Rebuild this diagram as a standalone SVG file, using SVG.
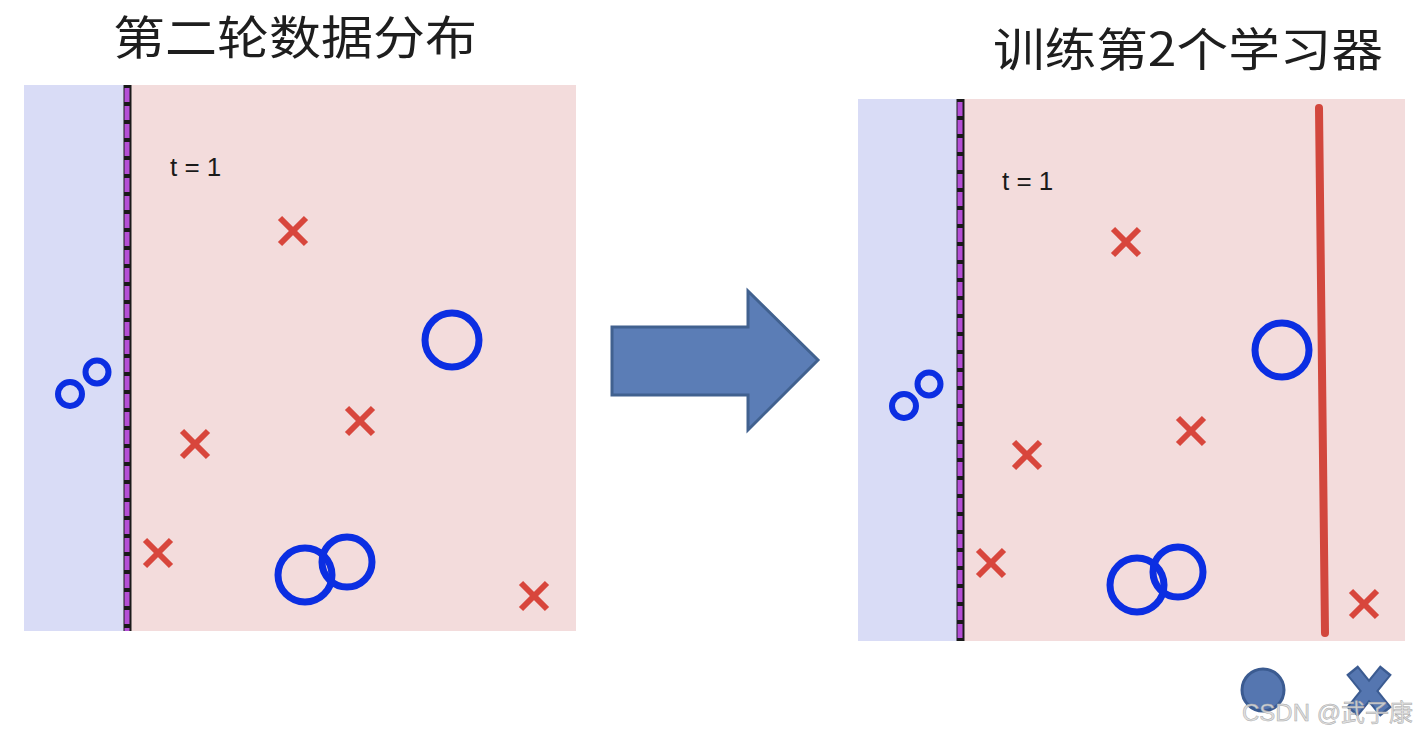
<svg xmlns="http://www.w3.org/2000/svg" width="1428" height="736" viewBox="0 0 1428 736">
<style>
.title{font-family:"Noto Sans CJK SC","Noto Sans",sans-serif;font-size:46px;fill:#1e1e1e}
.t{font-family:"Liberation Sans",Arial,sans-serif;font-size:26px;fill:#1a1a1a}
.bluebg{fill:#d9dcf6}
.pinkbg{fill:#f3dcdc}
.o{fill:none;stroke:#0b2ee2}
.x{stroke:#d8463c;stroke-width:6;stroke-linecap:butt}
.sepb{stroke:#1a1a1a;stroke-width:8}
.sepp{stroke:#b44fd6;stroke-width:5;stroke-dasharray:14 4}
</style>
<defs>
<g id="cross"><line class="x" x1="-13" y1="-13" x2="13" y2="13"/><line class="x" x1="-13" y1="13" x2="13" y2="-13"/></g>
</defs>
<rect width="1428" height="736" fill="#ffffff"/>
<g id="title-left"><text class="title" x="113" y="54" textLength="364" lengthAdjust="spacingAndGlyphs">第二轮数据分布</text></g>
<g id="title-right"><text class="title" x="993" y="66" textLength="390" lengthAdjust="spacingAndGlyphs">训练第2个学习器</text></g>
<g id="panel-left">
<rect class="pinkbg" x="24" y="85" width="552" height="546"/>
<rect class="bluebg" x="24" y="85" width="103" height="546"/>
<line class="sepb" x1="127.5" y1="85" x2="127.5" y2="631"/>
<line class="sepp" x1="127" y1="88" x2="127" y2="631"/>
<text class="t" x="170" y="176">t = 1</text>
<circle class="o" cx="70" cy="394" r="12" stroke-width="6"/>
<circle class="o" cx="97" cy="372" r="11.5" stroke-width="6"/>
<circle class="o" cx="452" cy="340" r="27" stroke-width="7"/>
<circle class="o" cx="305" cy="575" r="27" stroke-width="7"/>
<circle class="o" cx="347" cy="562" r="25" stroke-width="7"/>
<use href="#cross" x="293" y="231"/>
<use href="#cross" x="195" y="444"/>
<use href="#cross" x="360" y="421"/>
<use href="#cross" x="158" y="553"/>
<use href="#cross" x="534" y="596"/>
</g>
<g id="arrow">
<polygon points="612,327 748,327 748,291 818,360 748,430 748,395 612,395" fill="#5b7db6" stroke="#41618f" stroke-width="3" stroke-linejoin="miter"/>
</g>
<g id="panel-right">
<rect class="pinkbg" x="858" y="99" width="547" height="542"/>
<rect class="bluebg" x="858" y="99" width="102" height="542"/>
<line class="sepb" x1="960.5" y1="99" x2="960.5" y2="641"/>
<line class="sepp" x1="960" y1="102" x2="960" y2="641"/>
<text class="t" x="1002" y="190">t = 1</text>
<circle class="o" cx="904" cy="406" r="12" stroke-width="6"/>
<circle class="o" cx="929" cy="384" r="11.5" stroke-width="6"/>
<circle class="o" cx="1282" cy="350" r="27" stroke-width="7"/>
<circle class="o" cx="1137" cy="585" r="27" stroke-width="7"/>
<circle class="o" cx="1178" cy="572" r="25" stroke-width="7"/>
<use href="#cross" x="1126" y="242"/>
<use href="#cross" x="1027" y="455"/>
<use href="#cross" x="1191" y="431"/>
<use href="#cross" x="991" y="563"/>
<use href="#cross" x="1364" y="604"/>
<line x1="1319" y1="108" x2="1325" y2="633" stroke="#d2473d" stroke-width="8" stroke-linecap="round"/>
</g>
<g id="legend">
<circle cx="1263" cy="690" r="21" fill="#5576b0" stroke="#3b5b91" stroke-width="3"/>
<g stroke-linecap="butt">
<line x1="1352" y1="670" x2="1386" y2="712" stroke="#3b5b91" stroke-width="15"/>
<line x1="1386" y1="670" x2="1352" y2="712" stroke="#3b5b91" stroke-width="15"/>
<line x1="1353.5" y1="672" x2="1384.5" y2="710" stroke="#5576b0" stroke-width="11"/>
<line x1="1384.5" y1="672" x2="1353.5" y2="710" stroke="#5576b0" stroke-width="11"/>
</g>
</g>
<g id="watermark">
<text x="1242" y="721" font-family="'Liberation Sans','Noto Sans CJK SC',sans-serif" font-size="24" fill="#dcdcdc" fill-opacity="0.9" stroke="#a8a8a8" stroke-width="0.5">CSDN @武子康</text>
</g>
</svg>
